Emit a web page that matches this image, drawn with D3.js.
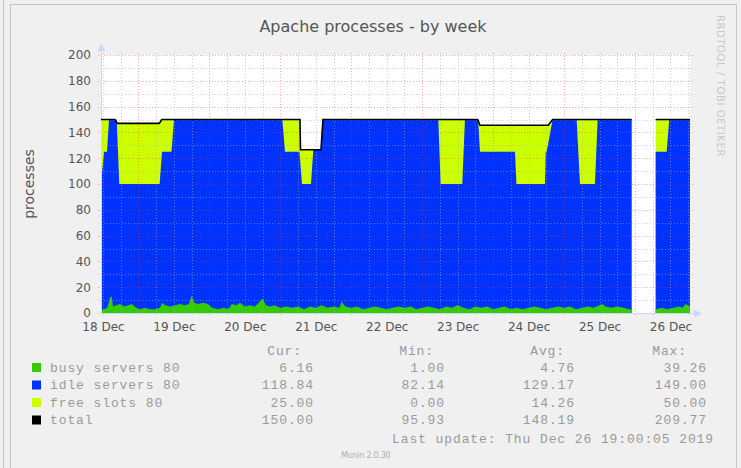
<!DOCTYPE html>
<html>
<head>
<meta charset="utf-8">
<script src="https://cdn.jsdelivr.net/npm/d3@7"></script>
<style>
  body { margin: 0; background: #f0f0f0; }
  svg { display: block; }
</style>
</head>
<body>
<svg id="chart" width="741" height="468"></svg>
<script>
// hours are counted from 18 Dec 2019 00:00
var base = Date.UTC(2019, 11, 18);

var yTicks = [0, 20, 40, 60, 80, 100, 120, 140, 160, 180, 200];

// top of the stack (black "total" line, top of the free slots area)
var total = [[-0.68,150],[4.06,150],[4.84,147],[19.05,147],[19.86,150],[66.64,150],[66.81,126.5],
  [73.75,126.5],[74.42,150],[126.76,150],[127.54,145.5],[150.64,145.5],[152.13,150],[178.86,150],
  [179,null],[186.98,150],[198.58,150]];

// top of the idle servers area (busy + idle)
var idleTop = [[-0.68,100],[0.34,125],[1.35,125],[2.03,150],[4.63,150],[5.51,100],[19.16,100],
  [19.96,125],[23.17,125],[24.02,150],[60.66,150],[61.57,125],[66.47,125],[67.32,100],[70.37,100],
  [71.15,126.5],[73.75,126.5],[74.42,150],[113.43,150],[114.24,100],[121.55,100],[122.46,150],
  [126.9,150],[127.54,125],[139.38,125],[139.88,100],[149.53,100],[149.8,125],[150.1,125],
  [152.13,150],[160.25,150],[161.37,100],[166.44,100],[167.35,150],[178.86,150],[179,null],
  [186.98,125],[190.7,125],[191.57,150],[198.58,150]];

// busy servers
var busy = [[-0.68,2],[0.3,3],[1.4,4],[2.4,12],[2.9,13],[3.4,5],[4.4,6],[5.8,7],[7.1,5],[8.5,6],
  [9.8,7],[11.2,4],[12.5,3],[14.2,4],[15.9,3],[17.6,3],[19.3,4],[20.0,8],[21.0,6],[22.7,5],[24.4,6],
  [26.0,7],[27.7,6],[29.1,7],[30.0,14],[30.8,8],[32.1,7],[33.8,8],[35.5,7],[36.9,4],[38.9,3],
  [40.9,4],[42.3,3],[43.6,7],[45.0,6],[46.4,8],[48.0,5],[49.7,6],[51.4,5],[54.0,11],[55.1,6],
  [56.5,5],[58,6],[60,4],[62,5],[64,4],[66,5],[68,3],[70,5],[72,4],[74,6],[76,4],[78,5],[80,4],
  [80.7,9],[82,5],[84,4],[86,5],[88,3],[90,4],[92,5],[94,4],[96,3],[98,4],[100,5],[102,4],[104,5],
  [106,3],[108,4],[110,5],[112,4],[114,3],[116,5],[118,4],[120,6],[122,4],[124,3],[126,5],[128,4],
  [130,5],[132,3],[134,4],[136,5],[138,3],[140,4],[142,3],[144,4],[146,5],[148,4],[150,3],[152,4],
  [154,5],[156,4],[158,5],[160,3],[162,4],[164,5],[166,4],[168,6],[169,7],[170,5],[172,4],[174,5],
  [176,4],[178,3],[178.86,3],[179,null],[186.98,3],[189,4],[191,3],[193,4],[195,5],[196,4],
  [197.2,7],[198.58,5]];

var legendNames = ['busy servers 80', 'idle servers 80', 'free slots 80', 'total'];
var legendColors = ['#33cc00', '#0033ff', '#ccff00', '#000000'];
var curVals = [6.16, 118.84, 25.00, 150.00];
var minVals = [1.00, 82.14, 0.00, 95.93];
var avgVals = [4.76, 129.17, 14.26, 148.19];
var maxVals = [39.26, 149.00, 50.00, 209.77];

var svg = d3.select('#chart');
var toDate = function(h) { return new Date(base + h * 36e5); };

var x = d3.scaleUtc().domain([toDate(-0.68), toDate(198.6)]).range([101, 690]);
var y = d3.scaleLinear().domain([0, 200]).range([313, 55]);

// frame
svg.append('rect').attr('width', 741).attr('height', 468).attr('fill', '#f0f0f0');
svg.append('line').attr('x1', 3.5).attr('x2', 3.5).attr('y1', 0).attr('y2', 468).attr('stroke', '#c4c4c4');
svg.append('path').attr('d', 'M10.5,468V4.5H736.5V468').attr('fill', 'none').attr('stroke', '#c4c4c4');

// canvas
svg.append('rect').attr('x', 101).attr('y', 55).attr('width', 589).attr('height', 258).attr('fill', '#fff');

var area = d3.area()
  .defined(function(d) { return d[1] != null; })
  .x(function(d) { return x(toDate(d[0])); })
  .y0(y(0))
  .y1(function(d) { return y(d[1]); });

svg.append('path').datum(total).attr('d', area).attr('fill', '#ccff00');
svg.append('path').datum(idleTop).attr('d', area).attr('fill', '#0033ff');
svg.append('path').datum(busy).attr('d', area).attr('fill', '#33cc00');

// grid, drawn over the areas like rrdtool does
var grid = svg.append('g').attr('shape-rendering', 'crispEdges');
var minorCol = 'rgba(170,170,170,0.55)', majorCol = 'rgba(255,40,40,0.4)';
var hours6 = d3.utcHour.every(6).range(x.domain()[0], x.domain()[1]);
hours6.forEach(function(t) {
  var major = t.getUTCHours() === 12;
  var px = Math.round(x(t)) + 0.5;
  grid.append('line').attr('x1', px).attr('x2', px).attr('y1', 53).attr('y2', major ? 316 : 315)
    .attr('stroke', major ? majorCol : minorCol)
    .attr('stroke-dasharray', '1,2');
});
d3.range(0, 201, 10).forEach(function(v) {
  var major = v % 20 === 0;
  var py = Math.round(y(v)) + 0.5;
  grid.append('line').attr('x1', 98).attr('x2', 693).attr('y1', py).attr('y2', py)
    .attr('stroke', major ? majorCol : minorCol)
    .attr('stroke-dasharray', '1,2');
});

// axes lines and arrows
svg.append('line').attr('x1', 101.5).attr('x2', 101.5).attr('y1', 313).attr('y2', 48).attr('stroke', '#cfd6f8');
svg.append('line').attr('x1', 101).attr('x2', 695).attr('y1', 313.5).attr('y2', 313.5).attr('stroke', '#cfd6f8');
svg.append('path').attr('d', 'M97.5,51L101.5,43L105.5,51Z').attr('fill', '#cfd6f8');
svg.append('path').attr('d', 'M694,309.5L702,313.5L694,317.5Z').attr('fill', '#cfd6f8');

// total line
var line = d3.line()
  .defined(function(d) { return d[1] != null; })
  .x(function(d) { return x(toDate(d[0])); })
  .y(function(d) { return y(d[1]); });
svg.append('path').datum(total).attr('d', line).attr('fill', 'none').attr('stroke', '#000').attr('stroke-width', 1.6);

// axis labels
var xAxis = d3.axisBottom(x)
  .tickValues(d3.utcDay.range(toDate(0), toDate(199)))
  .tickFormat(d3.utcFormat('%d %b'))
  .tickSize(0).tickPadding(9);
var gx = svg.append('g').attr('transform', 'translate(0,313)').call(xAxis);
gx.select('.domain').remove();
gx.selectAll('text').attr('font-family', 'DejaVu Sans').attr('font-size', 12).attr('fill', '#555');

var yAxis = d3.axisLeft(y).tickValues(yTicks).tickSize(0).tickPadding(10);
var gy = svg.append('g').attr('transform', 'translate(101,0)').call(yAxis);
gy.select('.domain').remove();
gy.selectAll('text').attr('font-family', 'DejaVu Sans').attr('font-size', 12).attr('fill', '#555');

// title and side texts
svg.append('text').attr('x', 373).attr('y', 32).attr('text-anchor', 'middle')
  .attr('font-family', 'DejaVu Sans').attr('font-size', 16).attr('fill', '#555')
  .text('Apache processes - by week');
svg.append('text').attr('transform', 'translate(34,184) rotate(-90)').attr('text-anchor', 'middle')
  .attr('font-family', 'DejaVu Sans').attr('font-size', 14).attr('fill', '#555')
  .text('processes');
svg.append('text').attr('transform', 'translate(717,15) rotate(90)')
  .attr('font-family', 'DejaVu Sans').attr('font-size', 10).attr('letter-spacing', 0.6).attr('fill', '#c8c8c8')
  .text('RRDTOOL / TOBI OETIKER');

// legend
var mono = { family: 'Liberation Mono', size: 13, spacing: 0.9 };
var leg = svg.append('g').attr('font-family', mono.family).attr('font-size', mono.size)
  .attr('letter-spacing', mono.spacing).attr('fill', '#9a9a9a');
var rowY = [371.5, 389, 406.5, 424];
var fmt = d3.format('.2f');
var cols = [
  { head: 'Cur:', vals: curVals, headX: 302, valX: 314 },
  { head: 'Min:', vals: minVals, headX: 434, valX: 445 },
  { head: 'Avg:', vals: avgVals, headX: 565, valX: 575 },
  { head: 'Max:', vals: maxVals, headX: 687, valX: 707 }
];
cols.forEach(function(c) {
  leg.append('text').attr('x', c.headX).attr('y', 355).attr('text-anchor', 'end').text(c.head);
  c.vals.forEach(function(v, i) {
    leg.append('text').attr('x', c.valX).attr('y', rowY[i]).attr('text-anchor', 'end').text(fmt(v));
  });
});
legendNames.forEach(function(n, i) {
  svg.append('rect').attr('x', 32).attr('y', rowY[i] - 8.5).attr('width', 9).attr('height', 9)
    .attr('fill', legendColors[i]);
  leg.append('text').attr('x', 50).attr('y', rowY[i]).text(n);
});
leg.append('text').attr('x', 714).attr('y', 442.5).attr('text-anchor', 'end')
  .text('Last update: Thu Dec 26 19:00:05 2019');

svg.append('text').attr('x', 341).attr('y', 458)
  .attr('font-family', 'DejaVu Sans Condensed, DejaVu Sans').attr('font-size', 9).attr('letter-spacing', -0.3)
  .attr('fill', '#b0b0b0').text('Munin 2.0.30');
</script>
</body>
</html>
